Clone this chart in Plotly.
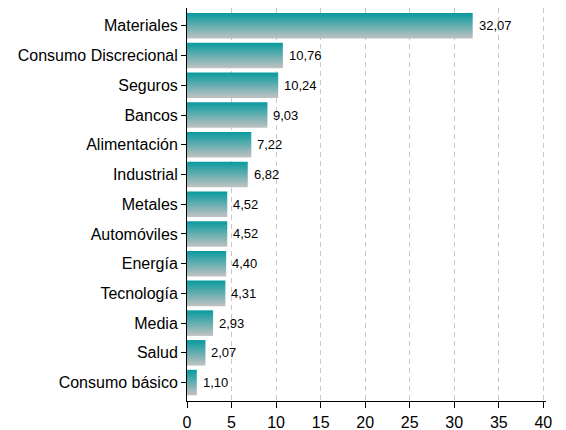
import plotly.graph_objects as go

categories = ["Materiales", "Consumo Discrecional", "Seguros", "Bancos", "Alimentación",
              "Industrial", "Metales", "Automóviles", "Energía", "Tecnología", "Media",
              "Salud", "Consumo básico"]
values = [32.07, 10.76, 10.24, 9.03, 7.22, 6.82, 4.52, 4.52, 4.40, 4.31, 2.93, 2.07, 1.10]
x_ticks = [0, 5, 10, 15, 20, 25, 30, 35, 40]

n = len(categories)
positions = [n - 1 - i for i in range(n)]
half = 0.43

fig = go.Figure()
for cat, v, p in zip(categories, values, positions):
    fig.add_trace(go.Scatter(
        x=[0, v, v, 0, 0],
        y=[p - half, p - half, p + half, p + half, p - half],
        mode="lines",
        line=dict(width=0),
        fill="toself",
        fillgradient=dict(type="vertical",
                          colorscale=[[0, "#c2c2c2"], [1, "#079a9e"]]),
        hoverinfo="skip",
        name=cat,
        showlegend=False,
    ))

labels = [f"{v:.2f}".replace(".", ",") for v in values]
for v, p, t in zip(values, positions, labels):
    fig.add_annotation(
        x=v, y=p, text=t, showarrow=False, xanchor="left", yanchor="middle",
        xshift=4, font=dict(family="Liberation Sans, Arial", size=13, color="black"),
    )

fig.update_layout(
    width=566, height=430,
    margin=dict(l=179, r=28, t=0, b=37),
    paper_bgcolor="white", plot_bgcolor="white",
    font=dict(family="Liberation Sans, Arial", size=16, color="black"),
    showlegend=False,
)
fig.update_xaxes(
    range=[0, 40.3], tickvals=x_ticks, ticktext=[str(t) for t in x_ticks],
    showgrid=True, gridcolor="#c8c8c8", griddash="5px,4px", gridwidth=1,
    showline=True, linecolor="black", linewidth=1,
    ticks="outside", ticklen=6, tickcolor="black", zeroline=False,
    tickfont=dict(size=16), ticklabelstandoff=1,
)
fig.update_yaxes(
    range=[-0.62, 12.6], tickvals=positions, ticktext=categories,
    showgrid=False, showline=True, linecolor="black", linewidth=1,
    ticks="outside", ticklen=5, tickcolor="black", zeroline=False,
    tickfont=dict(size=16),
)

fig.write_html("out.html")
